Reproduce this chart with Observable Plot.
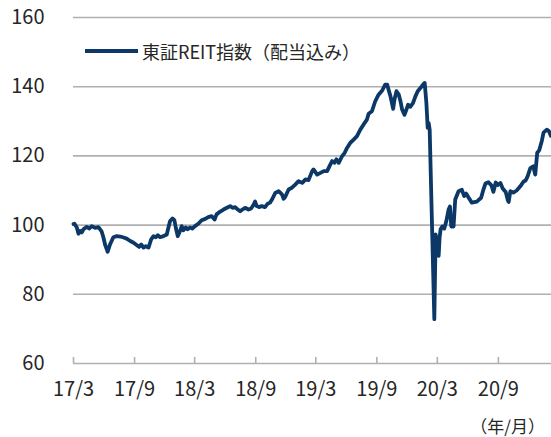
<!DOCTYPE html>
<html><head><meta charset="utf-8">
<script src="https://cdn.jsdelivr.net/npm/d3@7"></script>
<script src="https://cdn.jsdelivr.net/npm/@observablehq/plot@0.6"></script>
<style>
body{margin:0;background:#fff;}
#wrap{position:relative;width:551px;height:437px;font-family:"Noto Sans CJK JP",sans-serif;color:#262626;overflow:hidden}
.legend{position:absolute;left:85px;top:39px;display:flex;align-items:center;font-size:18px;white-space:nowrap;line-height:24px}
.legend .sw{width:53px;height:4px;background:#0b3866;margin-right:4px}
.unit{position:absolute;right:6px;top:415px;font-size:17px;line-height:22px}
</style></head><body>
<div id="wrap"><div id="chart"></div>
<div class="legend"><span class="sw"></span><span>東証REIT指数（配当込み）</span></div>
<div class="unit">（年/月）</div></div>
<script>
const seriesName = "東証REIT指数（配当込み）";
const dates = [
"2017-03-01","2017-03-04","2017-03-11","2017-03-16","2017-03-21","2017-03-26","2017-03-31","2017-04-10","2017-04-17","2017-04-25",
"2017-05-05","2017-05-15","2017-05-20","2017-05-25","2017-05-30","2017-06-04","2017-06-12","2017-06-19","2017-06-29","2017-07-09",
"2017-07-20","2017-07-30","2017-08-08","2017-08-19","2017-08-29","2017-09-08","2017-09-15","2017-09-21","2017-09-28","2017-10-05",
"2017-10-13","2017-10-21","2017-10-28","2017-11-04","2017-11-10","2017-11-17","2017-11-27","2017-12-07","2017-12-12","2017-12-17",
"2017-12-24","2017-12-30","2018-01-03","2018-01-09","2018-01-16","2018-01-21","2018-01-26","2018-02-02","2018-02-08","2018-02-15",
"2018-02-22","2018-03-02","2018-03-12","2018-03-22","2018-04-02","2018-04-11","2018-04-21","2018-04-30","2018-05-06","2018-05-17",
"2018-05-27","2018-06-06","2018-06-16","2018-06-23","2018-07-01","2018-07-09","2018-07-16","2018-07-23","2018-07-31","2018-08-10",
"2018-08-18","2018-08-25","2018-08-30","2018-09-04","2018-09-11","2018-09-19","2018-09-29","2018-10-07","2018-10-14","2018-10-20",
"2018-10-30","2018-11-09","2018-11-19","2018-11-24","2018-11-29","2018-12-09","2018-12-19","2018-12-29","2019-01-08","2019-01-19",
"2019-01-29","2019-02-07","2019-02-18","2019-02-22","2019-03-05","2019-03-15","2019-03-25","2019-04-04","2019-04-12","2019-04-19",
"2019-04-26","2019-05-02","2019-05-09","2019-05-19","2019-05-27","2019-06-03","2019-06-13","2019-06-23","2019-07-03","2019-07-13",
"2019-07-23","2019-08-02","2019-08-07","2019-08-17","2019-08-27","2019-09-06","2019-09-17","2019-09-26","2019-10-02","2019-10-06",
"2019-10-12","2019-10-20","2019-10-24","2019-10-30","2019-11-06","2019-11-11","2019-11-16","2019-11-23","2019-11-29","2019-12-04",
"2019-12-11","2019-12-19","2019-12-26","2020-01-02","2020-01-10","2020-01-18","2020-01-23","2020-01-28","2020-02-01","2020-02-04",
"2020-02-07","2020-02-21","2020-02-25","2020-03-01","2020-03-05","2020-03-08","2020-03-11","2020-03-16","2020-03-22","2020-03-28",
"2020-04-04","2020-04-08","2020-04-12","2020-04-19","2020-04-24","2020-05-04","2020-05-14","2020-05-21","2020-05-27","2020-06-03",
"2020-06-13","2020-06-28","2020-07-11","2020-07-18","2020-07-24","2020-08-02","2020-08-11","2020-08-17","2020-08-24","2020-08-30",
"2020-09-07","2020-09-14","2020-09-23","2020-09-29","2020-10-02","2020-10-07","2020-10-16","2020-10-26","2020-11-06","2020-11-16",
"2020-11-22","2020-11-28","2020-12-06","2020-12-15","2020-12-21","2020-12-27","2021-01-02","2021-01-10","2021-01-15","2021-01-25",
"2021-01-31","2021-02-06"
];
const values = [
100.3,100.4,99.3,97.5,98.3,97.9,98.8,99.5,99.0,99.7,
99.2,99.4,98.8,98.1,96.5,94.4,92.3,94.4,96.5,96.8,
96.7,96.4,96.1,95.4,94.9,94.2,93.7,94.4,93.5,93.9,
93.5,95.9,96.8,96.5,97.1,96.5,96.8,97.3,99.3,101.2,
101.9,101.4,99.3,96.8,98.3,99.7,98.5,99.3,98.8,99.3,
99.0,99.7,100.4,101.4,101.8,102.3,102.6,101.6,103.1,103.9,
104.5,105.0,105.5,105.0,105.2,104.5,104.0,104.5,105.0,104.5,
104.8,105.8,106.8,105.5,105.2,105.5,105.2,106.2,106.5,107.4,
109.3,109.8,108.9,107.6,108.2,110.3,110.8,111.7,112.7,112.2,
113.2,113.0,115.6,116.1,114.6,115.1,115.6,115.6,117.2,118.5,
118.0,119.0,118.0,119.9,120.9,122.3,123.8,124.7,125.7,127.6,
129.1,130.5,132.2,132.9,135.8,137.7,138.9,140.6,140.6,139.2,
137.2,133.6,136.3,138.7,137.7,135.8,133.4,131.9,133.4,134.8,
134.2,135.3,137.2,138.7,139.6,140.6,141.1,135.4,128.1,129.5,
127.6,72.8,97.3,94.4,91.1,96.5,98.8,99.6,99.0,101.1,
104.5,105.4,99.6,99.6,107.4,109.8,110.2,108.4,109.1,108.0,
106.5,106.8,107.9,110.3,112.0,112.4,111.5,109.6,112.3,111.6,
112.2,110.6,109.6,107.3,106.7,109.8,109.4,110.0,111.2,112.6,
112.9,114.1,116.4,117.0,114.6,120.9,121.6,124.4,126.7,127.6,
127.2,125.8
];
const yTicks = [60, 80, 100, 120, 140, 160];
const xTickDates = ["2017-03-01","2017-09-01","2018-03-01","2018-09-01","2019-03-01","2019-09-01","2020-03-01","2020-09-01"];
const xTickLabels = ["17/3","17/9","18/3","18/9","19/3","19/9","20/3","20/9"];
const xDomain = ["2017-03-01","2021-02-08"];

const parse = d3.utcParse("%Y-%m-%d");
const data = dates.map((d, i) => ({date: parse(d), value: values[i]}));
const ticks = xTickDates.map(parse);
const labelOf = new Map(ticks.map((t, i) => [+t, xTickLabels[i]]));
const grey = "#b0b0b0";
const font = '"Noto Sans CJK JP", sans-serif';

const chart = Plot.plot({
  width: 551,
  height: 437,
  marginTop: 17,
  marginBottom: 74,
  marginLeft: 73,
  marginRight: 0,
  style: {fontFamily: font, background: "#fff", color: "#262626", overflow: "visible"},
  x: {type: "utc", domain: xDomain.map(parse)},
  y: {domain: [60, 160]},
  marks: [
    Plot.gridY(yTicks.filter(t => t > 60), {stroke: grey, strokeOpacity: 1, strokeWidth: 1.6}),
    Plot.ruleY([60], {stroke: grey, strokeWidth: 1.6}),
    Plot.tickX(ticks, {x: d => d, stroke: grey, strokeWidth: 1.6, insetTop: 340}),
    Plot.axisY(yTicks, {tickSize: 0, tickPadding: 29, fontSize: 20, fill: "#262626", label: null}),
    Plot.axisX(ticks, {tickSize: 0, tickPadding: 18, fontSize: 20, fill: "#262626", label: null,
      tickFormat: d => labelOf.get(+d), letterSpacing: "1.2px"}),
    Plot.line(data, {x: "date", y: "value", stroke: "#0b3866", strokeWidth: 3.8,
      strokeLinejoin: "round", strokeLinecap: "round", title: () => seriesName})
  ]
});
document.getElementById("chart").appendChild(chart);
</script>
</body></html>
